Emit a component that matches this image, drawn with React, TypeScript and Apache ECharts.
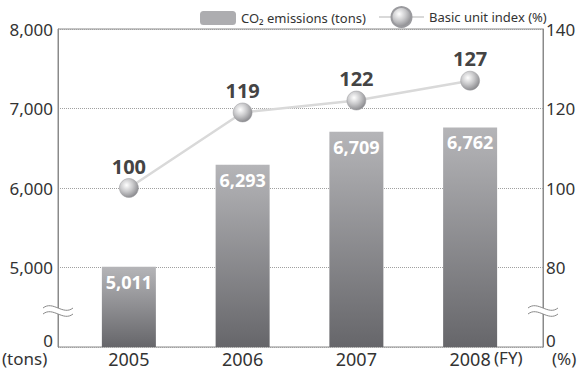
import React, { useEffect, useRef } from "react";
import * as echarts from "echarts";

const years = ["2005", "2006", "2007", "2008"];
const emissions = [5011, 6293, 6709, 6762];
const unitIndex = [100, 119, 122, 127];
const leftTicks = { min: 4000, max: 8000, interval: 1000 };
const rightTicks = { min: 60, max: 140, interval: 20 };
const barName = "CO₂ emissions (tons)";
const lineName = "Basic unit index (%)";

const FONT = "'Noto Sans', 'Open Sans', sans-serif";

function breakMark(cx: number, cy: number) {
  const wave = (dy: number) => ({
    type: "bezierCurve",
    z: 100,
    shape: {
      x1: cx - 15, y1: cy + dy,
      x2: cx + 15, y2: cy + dy,
      cpx1: cx - 5, cpy1: cy + dy - 8,
      cpx2: cx + 5, cpy2: cy + dy + 8,
    },
    style: { stroke: "#8a8a8a", lineWidth: 1, fill: null },
  });
  return [
    { type: "rect", z: 99, shape: { x: cx - 3, y: cy - 3, width: 6, height: 6 }, style: { fill: "#fff" } },
    wave(-3),
    wave(3),
  ];
}

export default function App() {
  const ref = useRef<HTMLDivElement>(null);
  useEffect(() => {
    document.body.style.margin = "0";
    const chart = echarts.init(ref.current!, null, { renderer: "svg" });
    const sphere = {
      type: "radial", x: 0.38, y: 0.35, r: 0.75,
      colorStops: [
        { offset: 0, color: "#ffffff" },
        { offset: 0.45, color: "#c9c9cb" },
        { offset: 1, color: "#7c7c80" },
      ],
    };
    const small = { fontSize: 17, fill: "#333", fontFamily: FONT };
    chart.setOption({
      animation: false,
      textStyle: { fontFamily: FONT },
      legend: [
        {
          left: 195, top: 6, itemWidth: 36, itemHeight: 14, itemGap: 10,
          data: [{ name: barName, itemStyle: { color: "#adadb0" } }],
          textStyle: { fontSize: 13, color: "#333", fontFamily: FONT },
        },
        {
          left: 373, top: 1, itemWidth: 45, itemHeight: 25,
          data: [lineName],
          textStyle: { fontSize: 13, color: "#333", fontFamily: FONT },
        },
      ],
      grid: [
        { left: 58, right: 36, top: 29, bottom: 27, show: true, borderColor: "#8a8a8a", borderWidth: 1, containLabel: false },
        { left: 72, right: 52, top: 29, bottom: 27, containLabel: false },
      ],
      xAxis: [
        { gridIndex: 0, type: "category", data: years, show: false },
        {
          gridIndex: 1, type: "category", data: years,
          axisLine: { show: false }, axisTick: { show: false },
          axisLabel: { fontSize: 18, color: "#333", margin: 3, fontFamily: FONT },
        },
      ],
      yAxis: [
        {
          gridIndex: 0, type: "value", ...leftTicks,
          axisLine: { show: true, lineStyle: { color: "#8a8a8a" } },
          axisTick: { show: false },
          splitLine: { show: true, lineStyle: { color: "#a0a0a0", type: [1, 1], width: 1 } },
          axisLabel: {
            fontSize: 17, color: "#333", margin: 5, fontFamily: FONT,
            formatter: (v: number) => (v === leftTicks.min ? "" : v.toLocaleString("en-US")),
          },
        },
        {
          gridIndex: 0, type: "value", position: "right", ...rightTicks,
          axisLine: { show: true, lineStyle: { color: "#8a8a8a" } },
          axisTick: { show: false },
          splitLine: { show: false },
          axisLabel: {
            fontSize: 17, color: "#333", margin: 3, fontFamily: FONT,
            formatter: (v: number) => (v === rightTicks.min ? "" : String(v)),
          },
        },
        { gridIndex: 1, type: "value", ...leftTicks, show: false, splitLine: { show: false } },
        { gridIndex: 1, type: "value", ...rightTicks, show: false, splitLine: { show: false } },
      ],
      series: [
        {
          name: barName, type: "bar", xAxisIndex: 1, yAxisIndex: 2,
          data: emissions, barWidth: 54,
          itemStyle: {
            color: {
              type: "linear", x: 0, y: 0, x2: 0, y2: 1,
              colorStops: [
                { offset: 0, color: "#b5b5b8" },
                { offset: 1, color: "#66666a" },
              ],
            },
          },
          label: {
            show: true, position: "insideTop", distance: 6,
            color: "#fff", fontWeight: "bold", fontSize: 18, fontFamily: FONT,
            formatter: (p: any) => Number(p.value).toLocaleString("en-US"),
          },
        },
        {
          name: lineName, type: "line", xAxisIndex: 1, yAxisIndex: 3,
          data: unitIndex, symbol: "circle", symbolSize: 19, z: 5,
          lineStyle: { color: "#d9d9d9", width: 2.5 },
          itemStyle: { color: sphere, borderColor: "#9a9a9e", borderWidth: 0.5 },
          label: {
            show: true, position: "top", distance: 2,
            color: "#444", fontWeight: "bold", fontSize: 20, fontFamily: FONT,
          },
        },
      ],
      graphic: [
        { type: "text", right: 526, top: 332, style: { text: "0", ...small } },
        { type: "text", left: 546, top: 332, style: { text: "0", ...small } },
        { type: "text", left: 2, top: 350, style: { text: "(tons)", ...small } },
        { type: "text", left: 494, top: 349, style: { text: "(FY)", ...small } },
        { type: "text", left: 552, top: 350, style: { text: "(%)", ...small } },
        ...breakMark(58, 311),
        ...breakMark(543, 311),
      ],
    });
    return () => chart.dispose();
  }, []);
  return <div ref={ref} style={{ width: 579, height: 374 }} />;
}
